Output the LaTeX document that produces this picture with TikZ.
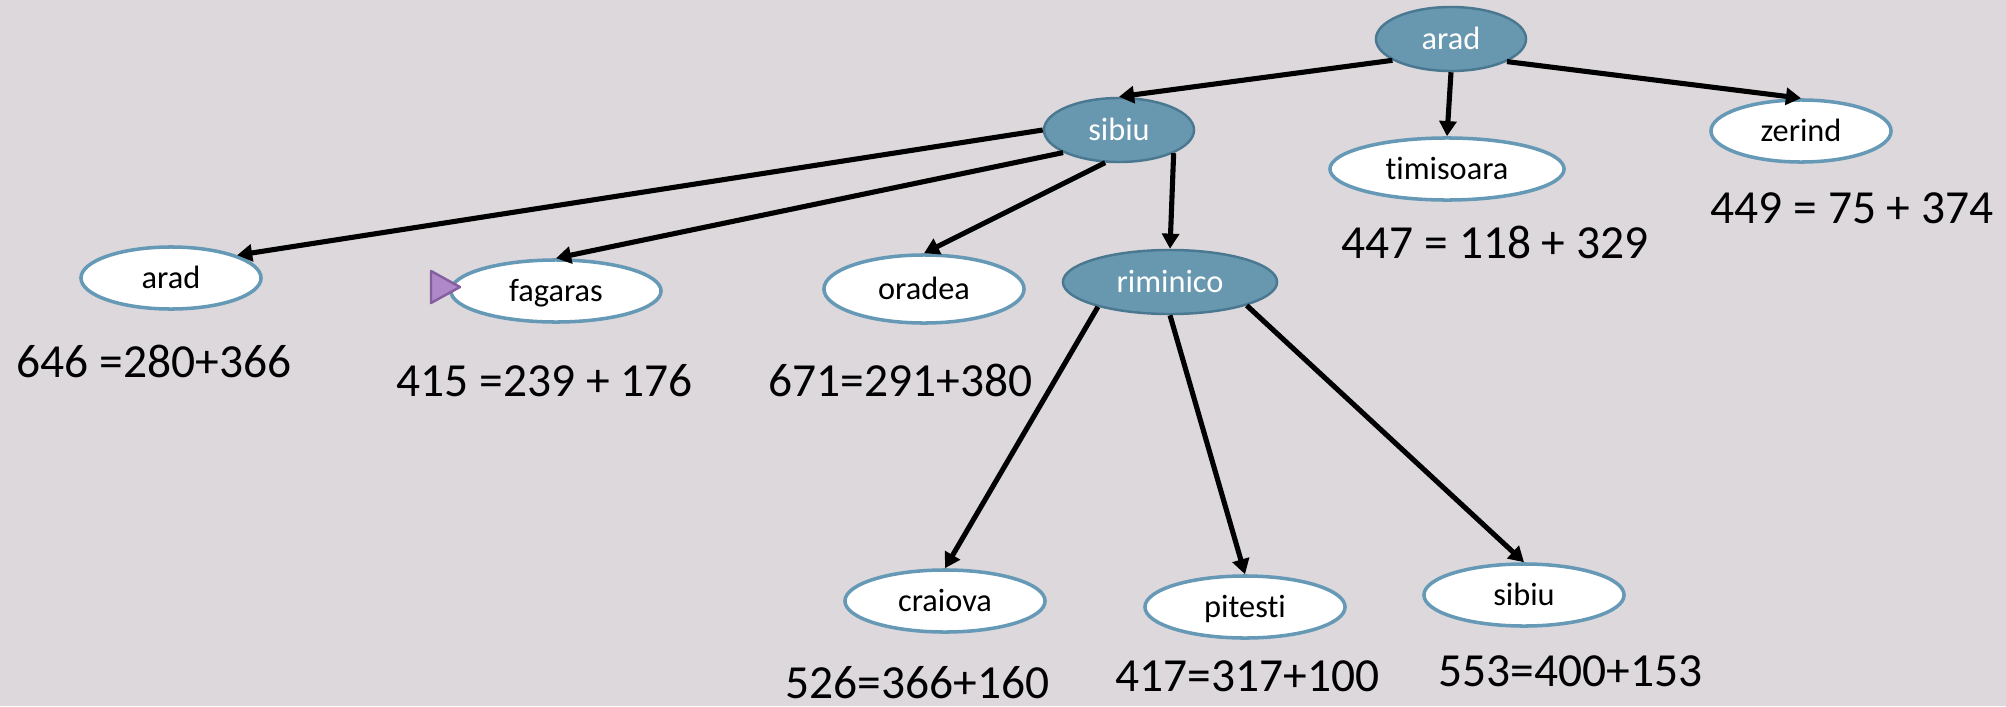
\documentclass[tikz,border=0pt]{standalone}
\usepackage{fontspec}
\setmainfont[Ligatures=NoCommon]{Carlito}
\usetikzlibrary{shapes.geometric,arrows.meta}
\definecolor{bg}{HTML}{DCD8DC}
\definecolor{nodefill}{HTML}{6897B0}
\definecolor{nodeedge}{HTML}{4A7890}
\definecolor{openedge}{HTML}{6699B6}
\definecolor{markfill}{HTML}{AE88C8}
\definecolor{markedge}{HTML}{86609E}
\tikzset{
  city/.style={ellipse, inner sep=0pt, text height=6pt, text depth=0pt,
    font=\fontsize{9.2}{11}\selectfont},
  expanded/.style={city, fill=nodefill, draw=nodeedge, line width=0.7pt, text=white},
  frontier/.style={city, fill=white, draw=openedge, line width=1pt, text=black},
  cost/.style={anchor=base west, inner sep=0pt, font=\fontsize{13.5}{16}\selectfont},
  edge/.style={line width=1.45pt, -{Triangle[length=4.3pt,width=4.8pt]}}
}
\begin{document}
\begin{tikzpicture}[x=0.01cm,y=-0.01cm]
\fill[bg] (0,0) rectangle (2006,706);
\useasboundingbox (0,0) rectangle (2006,706);

% search tree nodes
\node[expanded, minimum width=1.50cm, minimum height=0.64cm] (aradA) at (1451,39) {arad};
\node[expanded, minimum width=1.50cm, minimum height=0.64cm] (sibiuB) at (1119,130) {sibiu};
\node[frontier, minimum width=2.34cm, minimum height=0.62cm] (timis) at (1447,169) {timisoara};
\node[frontier, minimum width=1.80cm, minimum height=0.62cm] (zerind) at (1801,131) {zerind};
\node[frontier, minimum width=1.80cm, minimum height=0.62cm] (aradC) at (171,278) {arad};
\node[frontier, minimum width=2.10cm, minimum height=0.62cm] (fagaras) at (556,291) {fagaras};
\node[frontier, minimum width=2.00cm, minimum height=0.68cm] (oradea) at (924,289) {oradea};
\node[expanded, minimum width=2.14cm, minimum height=0.64cm] (riminico) at (1170,282) {riminico};
\node[frontier, minimum width=2.00cm, minimum height=0.62cm] (craiova) at (945,601) {craiova};
\node[frontier, minimum width=2.00cm, minimum height=0.62cm] (pitesti) at (1245,607) {pitesti};
\node[frontier, minimum width=2.00cm, minimum height=0.62cm] (sibiuD) at (1524,595) {sibiu};

% tree edges
\draw[edge] (aradA.200) -- (sibiuB.north);
\draw[edge] (aradA.south) -- (timis.north);
\draw[edge] (aradA.338) -- (zerind.north);
\draw[edge] (sibiuB.west) -- (aradC.19);
\draw[edge] (sibiuB.202) -- (fagaras.north);
\draw[edge] (sibiuB.247) -- (oradea.north);
\draw[edge] (sibiuB.337) -- (riminico.north);
\draw[edge] (riminico.199) -- (craiova.north);
\draw[edge] (riminico.south) -- (pitesti.north);
\draw[edge] (riminico.343) -- (sibiuD.north);

% marker for the next node to expand
\filldraw[fill=markfill, draw=markedge, line width=0.7pt, line join=round]
  (431,271) -- (431,303) -- (460,287) -- cycle;

% f = g + h values
\node[cost] (fAradC) at (16,377) {646 =280+366};
\node[cost] (fFagaras) at (396,396) {415 =239 + 176};
\node[cost] (fOradea) at (768,396) {671=291+380};
\node[cost] (fTimis) at (1341,258) {447 = 118 + 329};
\node[cost] (fZerind) at (1710,223) {449 = 75 + 374};
\node[cost] (fCraiova) at (785,698) {526=366+160};
\node[cost] (fPitesti) at (1115,691) {417=317+100};
\node[cost] (fSibiuD) at (1438,686) {553=400+153};
\end{tikzpicture}
\end{document}
